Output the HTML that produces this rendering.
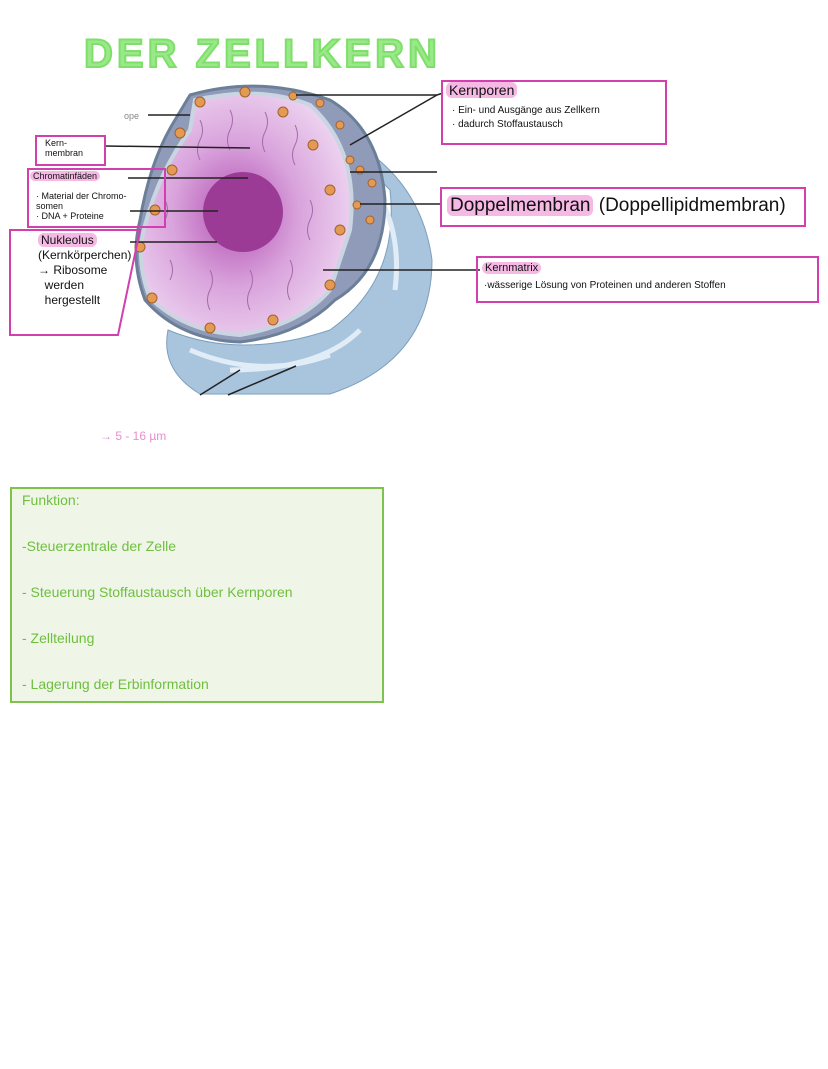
<!DOCTYPE html>
<html><head><meta charset="utf-8"><style>
body{margin:0;width:828px;height:1069px;background:#fff;position:relative;overflow:hidden;font-family:"Liberation Sans",sans-serif}
.a{position:absolute}
.box{position:absolute;border:2px solid #d23fae;box-sizing:border-box}
.h{color:#111;font-size:11px;line-height:12px}
.hl{background:#f6b8e4;border-radius:6px;padding:0 3px}
</style></head><body>
<div class="a" style="left:84px;top:32px;font-size:40px;font-weight:bold;color:#9ae889;letter-spacing:4px;-webkit-text-stroke:2px #7ee06a;white-space:nowrap">DER ZELLKERN</div>

<svg class="a" style="left:0;top:0" width="828" height="420">
<defs>
<radialGradient id="p" cx="0.45" cy="0.5" r="0.6"><stop offset="0" stop-color="#b24fb0"/><stop offset="0.5" stop-color="#d9a3dc"/><stop offset="1" stop-color="#efd8f2"/></radialGradient>
</defs>
<path d="M330 130 Q420 170 432 260 Q432 360 330 394 L200 394 Q160 370 168 330 Q240 360 330 330 Q400 280 390 190 Z" fill="#a9c5de" stroke="#7e9fbd"/>
<path d="M350 160 Q405 210 395 290 M360 330 Q320 370 230 370 M190 350 Q260 380 330 355" stroke="#e1edf6" stroke-width="5" fill="none"/>
<path d="M190 95 Q260 75 330 100 Q380 130 385 200 Q385 270 335 300 Q300 335 240 342 Q180 340 145 300 Q130 260 140 220 Q150 160 175 120 Z" fill="#8f9bb8" stroke="#6c7f99" stroke-width="3"/>
<path d="M195 100 Q260 85 310 105 Q360 150 350 230 L330 290 Q300 325 240 335 Q185 332 150 298 Q135 260 145 225 Q160 170 190 130 Z" fill="url(#p)" stroke="#c9d6e2" stroke-width="4"/>
<circle cx="243" cy="212" r="40" fill="#9b3b95"/>
<g stroke="#a56aa9" fill="none" stroke-width="1">
<path d="M200 120 q5 10 0 20 q-5 10 0 20 M230 110 q5 10 0 20 q-5 10 0 20 M265 112 q5 10 0 20 q-5 10 0 20 M295 125 q5 10 0 20 q-5 10 0 20 M170 260 q5 10 0 20 M210 270 q5 10 0 20 q-5 10 0 20 M250 270 q5 10 0 20 q-5 10 0 20 M290 260 q5 10 0 20 q-5 10 0 20 M310 200 q5 10 0 20 q-5 10 0 20 M165 200 q5 10 0 20"/>
</g>
<g fill="#e29a55" stroke="#a5602a">
<circle cx="200" cy="102" r="5"/><circle cx="245" cy="92" r="5"/><circle cx="283" cy="112" r="5"/><circle cx="313" cy="145" r="5"/><circle cx="330" cy="190" r="5"/><circle cx="340" cy="230" r="5"/><circle cx="330" cy="285" r="5"/><circle cx="273" cy="320" r="5"/><circle cx="210" cy="328" r="5"/><circle cx="152" cy="298" r="5"/><circle cx="140" cy="247" r="5"/><circle cx="155" cy="210" r="5"/><circle cx="172" cy="170" r="5"/><circle cx="180" cy="133" r="5"/>
<circle cx="293" cy="96" r="4"/><circle cx="320" cy="103" r="4"/><circle cx="340" cy="125" r="4"/><circle cx="350" cy="160" r="4"/><circle cx="360" cy="170" r="4"/><circle cx="357" cy="205" r="4"/><circle cx="372" cy="183" r="4"/><circle cx="370" cy="220" r="4"/>
</g>
<g stroke="#222" stroke-width="1.5" fill="none">
<line x1="148" y1="115" x2="190" y2="115"/>
<line x1="105" y1="146" x2="250" y2="148"/>
<line x1="128" y1="178" x2="248" y2="178"/>
<line x1="130" y1="211" x2="218" y2="211"/>
<line x1="130" y1="242" x2="217" y2="242"/>
<line x1="296" y1="95" x2="437" y2="95"/><line x1="350" y1="145" x2="437" y2="95"/><line x1="437" y1="95" x2="443" y2="93"/>
<line x1="350" y1="172" x2="437" y2="172"/>
<line x1="360" y1="204" x2="442" y2="204"/>
<line x1="323" y1="270" x2="480" y2="270"/>
<line x1="200" y1="395" x2="240" y2="370"/>
<line x1="228" y1="395" x2="296" y2="366"/>
</g>
<text x="124" y="119" font-size="9" fill="#888" font-family="Liberation Sans">ope</text>
<polygon points="10,230 140,230 118,335 10,335" fill="none" stroke="#d23fae" stroke-width="2"/>
</svg>

<div class="box" style="left:35px;top:135px;width:71px;height:31px"></div>
<div class="a h" style="left:45px;top:138px;font-size:9px;line-height:10px">Kern-<br>membran</div>
<div class="box" style="left:27px;top:168px;width:139px;height:60px"></div>
<div class="a h" style="left:30px;top:170px;font-size:9px"><span class="hl">Chromatinfäden</span></div>
<div class="a h" style="left:36px;top:191px;font-size:9px;line-height:10px">· Material der Chromo-<br>somen<br>· DNA + Proteine</div>
<div class="a h" style="left:38px;top:233px;font-size:12px;line-height:15px"><span class="hl">Nukleolus</span><br>(Kernkörperchen)<br>→ Ribosome<br>&nbsp;&nbsp;werden<br>&nbsp;&nbsp;hergestellt</div>

<div class="box" style="left:441px;top:80px;width:226px;height:65px"></div>
<div class="a h" style="left:446px;top:84px;font-size:14px"><span class="hl">Kernporen</span></div>
<div class="a h" style="left:452px;top:104px;font-size:10px;line-height:14px">· Ein- und Ausgänge aus Zellkern<br>· dadurch Stoffaustausch</div>
<div class="box" style="left:440px;top:187px;width:366px;height:40px"></div>
<div class="a h" style="left:447px;top:195px;font-size:19px;line-height:22px"><span class="hl">Doppelmembran</span> (Doppellipidmembran)</div>
<div class="box" style="left:476px;top:256px;width:343px;height:47px"></div>
<div class="a h" style="left:482px;top:262px;font-size:11px"><span class="hl">Kernmatrix</span></div>
<div class="a h" style="left:484px;top:280px;font-size:10px">·wässerige Lösung von Proteinen und anderen Stoffen</div>

<div class="a" style="left:100px;top:429px;font-size:12px;color:#e58fd0">→ 5 - 16 µm</div>

<div class="a" style="left:10px;top:487px;width:374px;height:216px;background:#eff6e7;border:2px solid #7ec34d;box-sizing:border-box"></div>
<div class="a" style="left:22px;top:477px;font-size:14px;color:#6fbf3f;line-height:46px">Funktion:<br>-Steuerzentrale der Zelle<br>- Steuerung Stoffaustausch über Kernporen<br>- Zellteilung<br>- Lagerung der Erbinformation</div>
</body></html>
